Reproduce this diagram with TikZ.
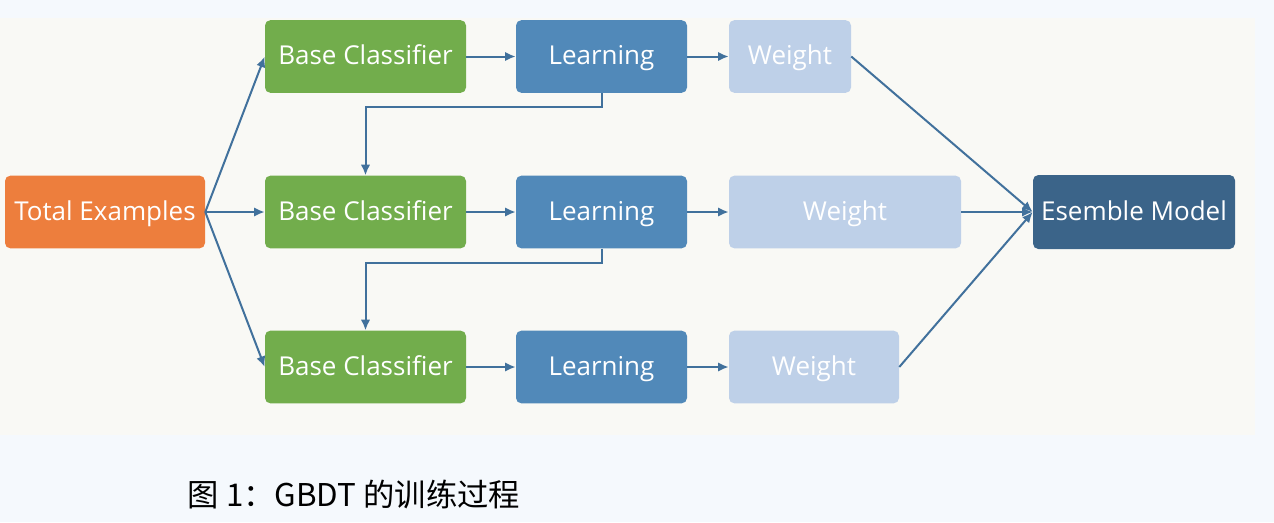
\documentclass[tikz,border=0pt]{standalone}
\usepackage{fontspec}
\setmainfont{Open Sans}
\newfontfamily\cjk{Noto Sans CJK SC}
\usepackage{tikz}
\usepackage{xcolor}
\usetikzlibrary{arrows.meta}
\definecolor{outerbg}{HTML}{F5F9FD}
\definecolor{innerbg}{HTML}{F9F9F5}
\definecolor{totalorange}{HTML}{ED7E3D}
\definecolor{basegreen}{HTML}{72AD4C}
\definecolor{learnblue}{HTML}{5189B9}
\definecolor{weightblue}{HTML}{BED0E8}
\definecolor{modelblue}{HTML}{3B6489}
\definecolor{arrowc}{HTML}{41719C}
\begin{document}
\begin{tikzpicture}[x=0.75pt,y=-0.75pt,>={Latex[length=8pt,width=7pt]},
    box/.style={rounded corners=4pt,text=white,minimum height=54.5pt,inner sep=0pt,text height=15pt,text depth=3pt,font=\fontsize{19.5}{22}\selectfont},
    flow/.style={->,draw=arrowc,line width=1.5pt}]
    \useasboundingbox (0,0) rectangle (1274,522);
    \fill[outerbg] (0,0) rectangle (1274,522);
    \fill[innerbg] (0,18) rectangle (1255,435);
    \node[box,fill=totalorange,minimum width=150pt] (total) at (105,212) {Total Examples};
    \node[box,fill=modelblue,minimum width=151.5pt,minimum height=55.5pt] (model) at (1134,212) {Esemble Model};
    \foreach \i/\y/\wx/\ww in {1/56.5/790/91.5,2/212/845/174,3/367/814/127.5}{
    \node[box,fill=basegreen,minimum width=150.75pt] (base\i) at (365.5,\y) {Base Classifier};
    \node[box,fill=learnblue,minimum width=128.25pt] (learn\i) at (601.5,\y) {Learning};
    \node[box,fill=weightblue,minimum width=\ww pt] (weight\i) at (\wx,\y) {Weight};
    \draw[flow] (total.east) -- (base\i.west);
    \draw[flow] (base\i) -- (learn\i);
    \draw[flow] (learn\i) -- (weight\i);
    \draw[flow] (weight\i.east) -- (model.west);
    }
    \foreach \i/\j in {1/2,2/3}{
    \draw[flow] (learn\i.south) -- ++(0,14) -| (base\j.north);
    }
    \node[font=\cjk\fontsize{23.5}{28}\selectfont,anchor=west] (caption) at (183,495) {图 1：GBDT 的训练过程};
\end{tikzpicture}
\end{document}
